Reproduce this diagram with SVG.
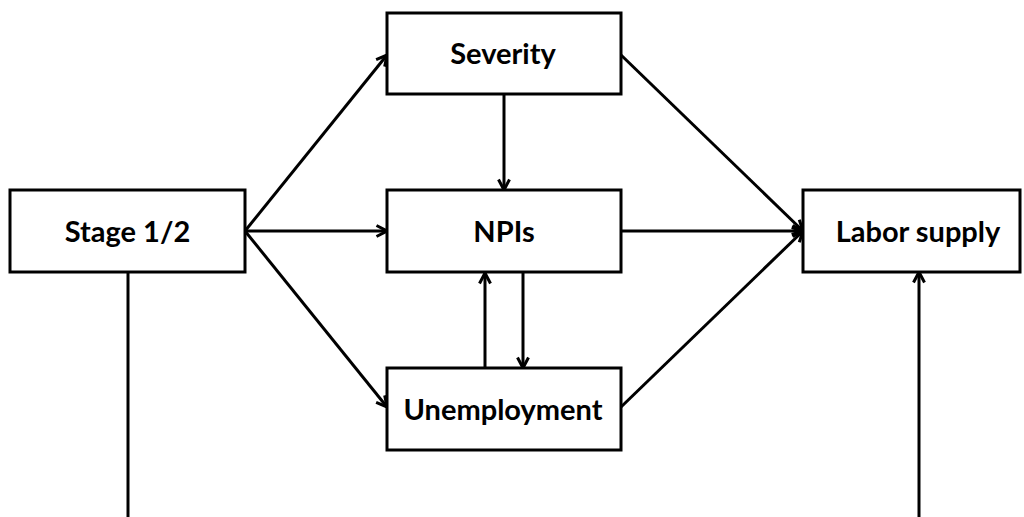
<svg xmlns="http://www.w3.org/2000/svg" width="1024" height="517" viewBox="0 0 1024 517">
<style>
.box{fill:#fff;stroke:#000;stroke-width:3}
.lbl{font-family:Lato,"Open Sans","Liberation Sans",sans-serif;font-weight:bold;font-size:29px;text-anchor:middle;fill:#000}
.edge{stroke:#000;stroke-width:3;fill:none}
</style>
<defs>
<marker id="arr" viewBox="0 0 14 14" refX="12.5" refY="7" markerWidth="14" markerHeight="14" markerUnits="userSpaceOnUse" orient="auto">
<path d="M2,1.5 L12.5,7 L2,12.5" fill="none" stroke="#000" stroke-width="3"/>
</marker>
</defs>
<g id="connectors">
<line class="edge" x1="245" y1="231" x2="387" y2="55" marker-end="url(#arr)"/>
<line class="edge" x1="245" y1="231" x2="387" y2="231" marker-end="url(#arr)"/>
<line class="edge" x1="245" y1="231" x2="387" y2="407" marker-end="url(#arr)"/>
<line class="edge" x1="504" y1="94" x2="504" y2="190" marker-end="url(#arr)"/>
<line class="edge" x1="485" y1="368" x2="485" y2="273" marker-end="url(#arr)"/>
<line class="edge" x1="523" y1="273" x2="523" y2="368" marker-end="url(#arr)"/>
<line class="edge" x1="621" y1="55" x2="803" y2="231" marker-end="url(#arr)"/>
<line class="edge" x1="621" y1="231" x2="803" y2="231" marker-end="url(#arr)"/>
<line class="edge" x1="621" y1="407" x2="803" y2="231" marker-end="url(#arr)"/>
<line class="edge" x1="128" y1="272" x2="128" y2="517"/>
<line class="edge" x1="919" y1="517" x2="919" y2="272" marker-end="url(#arr)"/>
</g>
<g id="stage">
<rect class="box" x="10" y="190" width="235" height="82"/>
<text class="lbl" x="127.5" y="242">Stage 1/2</text>
</g>
<g id="severity">
<rect class="box" x="387" y="13" width="234" height="81"/>
<text class="lbl" x="503" y="64">Severity</text>
</g>
<g id="npis">
<rect class="box" x="387" y="190" width="234" height="82"/>
<text class="lbl" x="504" y="242">NPIs</text>
</g>
<g id="unemployment">
<rect class="box" x="387" y="368" width="234" height="82"/>
<text class="lbl" x="503" y="420">Unemployment</text>
</g>
<g id="labor">
<rect class="box" x="803" y="190" width="217" height="82"/>
<text class="lbl" x="918" y="242">Labor supply</text>
</g>
</svg>
